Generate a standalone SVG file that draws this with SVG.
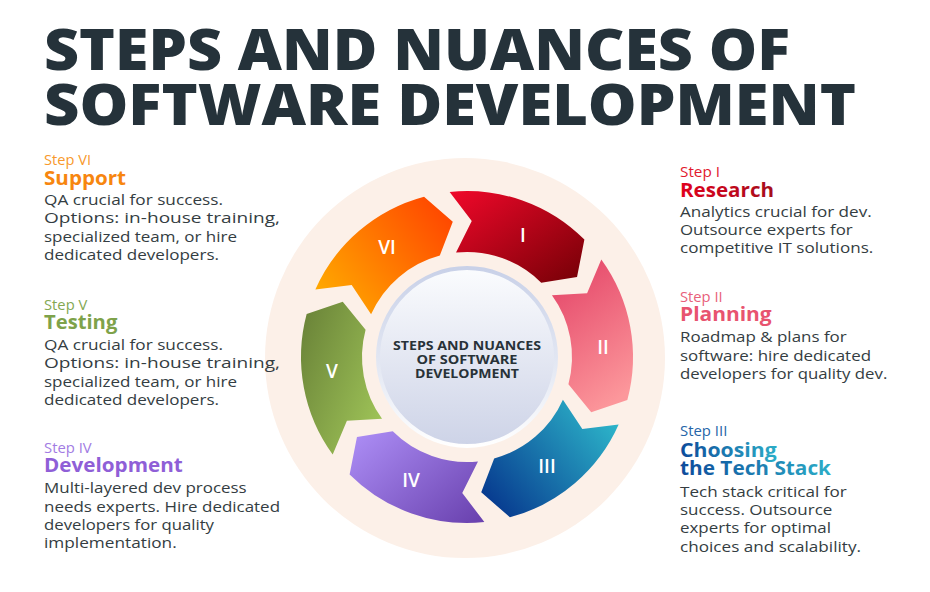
<svg xmlns="http://www.w3.org/2000/svg" width="930" height="592" viewBox="0 0 930 592">
<defs>
<style>
text{font-family:"Open Sans","Noto Sans","DejaVu Sans",sans-serif}
.title{font-size:57px;font-weight:800;fill:#25323a}
.step{font-size:14px;font-weight:400}
.head{font-size:19px;font-weight:700}
.body{font-size:15px;font-weight:400;fill:#343d42}
.num{font-size:19px;font-weight:600;fill:#ffffff;text-anchor:middle}
.ctr{font-size:13px;font-weight:700;fill:#283238;text-anchor:middle}
</style>
<linearGradient id="gI" x1="0" y1="0" x2="1" y2="1"><stop offset="0" stop-color="#f0082a"/><stop offset="1" stop-color="#740006"/></linearGradient>
<linearGradient id="gII" x1="0.2" y1="0" x2="0.6" y2="1"><stop offset="0" stop-color="#e44568"/><stop offset="1" stop-color="#fc979b"/></linearGradient>
<linearGradient id="gIII" x1="0" y1="0.8" x2="1" y2="0.1"><stop offset="0" stop-color="#073a8f"/><stop offset="1" stop-color="#2fbccd"/></linearGradient>
<linearGradient id="gIV" x1="0" y1="0.1" x2="1" y2="0.9"><stop offset="0" stop-color="#ab8cf4"/><stop offset="1" stop-color="#6b43b0"/></linearGradient>
<linearGradient id="gV" x1="0" y1="0.1" x2="1" y2="0.8"><stop offset="0" stop-color="#6a8338"/><stop offset="1" stop-color="#9fc458"/></linearGradient>
<linearGradient id="gVI" x1="0" y1="0.9" x2="1" y2="0.2"><stop offset="0" stop-color="#ffae00"/><stop offset="1" stop-color="#ff4800"/></linearGradient>
<linearGradient id="gCF" x1="0" y1="0" x2="0" y2="1"><stop offset="0" stop-color="#fbfcfe"/><stop offset="1" stop-color="#cdd3e7"/></linearGradient>
<linearGradient id="gCS" x1="0" y1="0" x2="0" y2="1"><stop offset="0" stop-color="#c9d1e8"/><stop offset="0.6" stop-color="#e6eaf4"/><stop offset="1" stop-color="#ffffff"/></linearGradient>
<linearGradient id="gRes" x1="0" y1="0" x2="1" y2="0"><stop offset="0" stop-color="#e0001c"/><stop offset="1" stop-color="#a50e1c"/></linearGradient>
<linearGradient id="gTech" x1="0" y1="0" x2="1" y2="0"><stop offset="0" stop-color="#0d4b9b"/><stop offset="1" stop-color="#2badc7"/></linearGradient>
</defs>
<rect width="930" height="592" fill="#ffffff"/>

<g id="title">
<text class="title" x="44" y="70" textLength="746" lengthAdjust="spacingAndGlyphs">STEPS AND NUANCES OF</text>
<text class="title" x="44" y="125" textLength="812" lengthAdjust="spacingAndGlyphs">SOFTWARE DEVELOPMENT</text>
</g>

<g id="halo"><circle cx="465" cy="358" r="200" fill="#fcf0e8"/></g>

<g id="connectors"></g>

<g id="segment-I">
<path d="M449.65 191.91 A166 166 0 0 1 584.38 239.62 L577.03 277.06 L541.25 282.75 A105 105 0 0 0 456.02 252.58 L471.75 221.08 Z" fill="url(#gI)"/>
<text class="num" x="523" y="242">I</text>
</g>
<g id="segment-II">
<path d="M601.30 259.43 A166 166 0 0 1 627.34 399.96 L591.24 412.32 L568.42 384.18 A105 105 0 0 0 551.95 295.28 L587.08 293.15 Z" fill="url(#gII)"/>
<text class="num" x="603" y="354">II</text>
</g>
<g id="segment-III">
<path d="M618.65 424.52 A166 166 0 0 1 509.96 517.34 L481.22 492.25 L494.18 458.42 A105 105 0 0 0 562.92 399.71 L582.33 429.07 Z" fill="url(#gIII)"/>
<text class="num" x="547" y="473">III</text>
</g>
<g id="segment-IV">
<path d="M484.35 522.09 A166 166 0 0 1 349.62 474.38 L356.97 436.94 L392.75 431.25 A105 105 0 0 0 477.98 461.42 L462.25 492.92 Z" fill="url(#gIV)"/>
<text class="num" x="411" y="487">IV</text>
</g>
<g id="segment-V">
<path d="M332.70 454.57 A166 166 0 0 1 306.66 314.04 L342.76 301.68 L365.58 329.82 A105 105 0 0 0 382.05 418.72 L346.92 420.85 Z" fill="url(#gV)"/>
<text class="num" x="332" y="378">V</text>
</g>
<g id="segment-VI">
<path d="M315.35 289.48 A166 166 0 0 1 424.04 196.66 L452.78 221.75 L439.82 255.58 A105 105 0 0 0 371.08 314.29 L351.67 284.93 Z" fill="url(#gVI)"/>
<text class="num" x="387" y="254">VI</text>
</g>

<g id="center">
<circle cx="467" cy="357" r="89" fill="url(#gCF)" stroke="url(#gCS)" stroke-width="4"/>
<text class="ctr" x="467" y="350" textLength="148" lengthAdjust="spacingAndGlyphs">STEPS AND NUANCES</text>
<text class="ctr" x="467" y="364" textLength="101" lengthAdjust="spacingAndGlyphs">OF SOFTWARE</text>
<text class="ctr" x="467" y="378" textLength="104" lengthAdjust="spacingAndGlyphs">DEVELOPMENT</text>
</g>

<g id="text-VI">
<text class="step" x="44" y="165" fill="#f8992c" textLength="47" lengthAdjust="spacingAndGlyphs">Step VI</text>
<text class="head" x="44" y="185" fill="#f7860f" textLength="82" lengthAdjust="spacingAndGlyphs">Support</text>
<text class="body" x="44" y="205" textLength="179" lengthAdjust="spacingAndGlyphs">QA crucial for success.</text>
<text class="body" x="44" y="223.3" textLength="236" lengthAdjust="spacingAndGlyphs">Options: in-house training,</text>
<text class="body" x="44" y="241.7" textLength="193" lengthAdjust="spacingAndGlyphs">specialized team, or hire</text>
<text class="body" x="44" y="260" textLength="175" lengthAdjust="spacingAndGlyphs">dedicated developers.</text>
</g>

<g id="text-V">
<text class="step" x="44" y="310" fill="#84a852" textLength="43.3" lengthAdjust="spacingAndGlyphs">Step V</text>
<text class="head" x="44" y="329" fill="#7ea24a" textLength="73.3" lengthAdjust="spacingAndGlyphs">Testing</text>
<text class="body" x="44" y="350" textLength="179" lengthAdjust="spacingAndGlyphs">QA crucial for success.</text>
<text class="body" x="44" y="368.3" textLength="236" lengthAdjust="spacingAndGlyphs">Options: in-house training,</text>
<text class="body" x="44" y="386.7" textLength="193" lengthAdjust="spacingAndGlyphs">specialized team, or hire</text>
<text class="body" x="44" y="405" textLength="175" lengthAdjust="spacingAndGlyphs">dedicated developers.</text>
</g>

<g id="text-IV">
<text class="step" x="44" y="453.3" fill="#a27ce3" textLength="47.7" lengthAdjust="spacingAndGlyphs">Step IV</text>
<text class="head" x="44" y="472.3" fill="#8f5fd7" textLength="138.7" lengthAdjust="spacingAndGlyphs">Development</text>
<text class="body" x="44" y="493.3" textLength="202.7" lengthAdjust="spacingAndGlyphs">Multi-layered dev process</text>
<text class="body" x="44" y="511.7" textLength="236" lengthAdjust="spacingAndGlyphs">needs experts. Hire dedicated</text>
<text class="body" x="44" y="530" textLength="170" lengthAdjust="spacingAndGlyphs">developers for quality</text>
<text class="body" x="44" y="548.3" textLength="132.7" lengthAdjust="spacingAndGlyphs">implementation.</text>
</g>

<g id="text-I">
<text class="step" x="680" y="176.7" fill="#e2192e" textLength="40" lengthAdjust="spacingAndGlyphs">Step I</text>
<text class="head" x="680" y="196.7" fill="url(#gRes)" textLength="94" lengthAdjust="spacingAndGlyphs">Research</text>
<text class="body" x="680" y="216.7" textLength="191.7" lengthAdjust="spacingAndGlyphs">Analytics crucial for dev.</text>
<text class="body" x="680" y="235" textLength="172.7" lengthAdjust="spacingAndGlyphs">Outsource experts for</text>
<text class="body" x="680" y="253.3" textLength="193.3" lengthAdjust="spacingAndGlyphs">competitive IT solutions.</text>
</g>

<g id="text-II">
<text class="step" x="680" y="302.3" fill="#e8607a" textLength="42.7" lengthAdjust="spacingAndGlyphs">Step II</text>
<text class="head" x="680" y="321" fill="#e8546f" textLength="91.7" lengthAdjust="spacingAndGlyphs">Planning</text>
<text class="body" x="680" y="342.3" textLength="166.7" lengthAdjust="spacingAndGlyphs">Roadmap &amp; plans for</text>
<text class="body" x="680" y="361" textLength="191" lengthAdjust="spacingAndGlyphs">software: hire dedicated</text>
<text class="body" x="680" y="379.3" textLength="207.3" lengthAdjust="spacingAndGlyphs">developers for quality dev.</text>
</g>

<g id="text-III">
<text class="step" x="680" y="435.7" fill="#2565a8" textLength="47.3" lengthAdjust="spacingAndGlyphs">Step III</text>
<text class="head" x="680" y="456.7" fill="url(#gTech)" textLength="96.7" lengthAdjust="spacingAndGlyphs">Choosing</text>
<text class="head" x="680" y="475" fill="url(#gTech)" textLength="151" lengthAdjust="spacingAndGlyphs">the Tech Stack</text>
<text class="body" x="680" y="496.7" textLength="166.7" lengthAdjust="spacingAndGlyphs">Tech stack critical for</text>
<text class="body" x="680" y="515" textLength="152.3" lengthAdjust="spacingAndGlyphs">success. Outsource</text>
<text class="body" x="680" y="533.3" textLength="151" lengthAdjust="spacingAndGlyphs">experts for optimal</text>
<text class="body" x="680" y="551.7" textLength="181" lengthAdjust="spacingAndGlyphs">choices and scalability.</text>
</g>
</svg>
